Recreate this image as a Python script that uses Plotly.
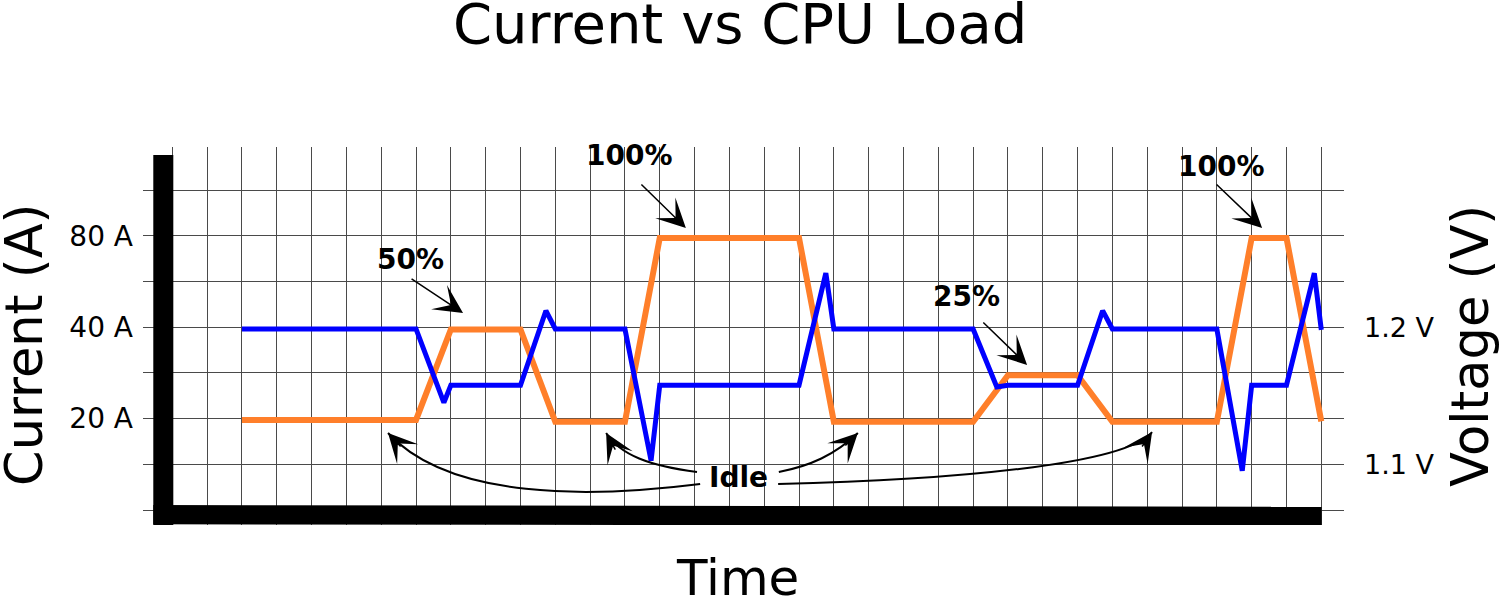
import plotly.graph_objects as go

# ---- data (grid units: x = time step, y = grid row) ----
time_current = [2, 7, 8, 10, 11, 13, 14, 18, 19, 23, 24, 26, 27, 30, 31, 32, 33]
current_level = [1.97, 1.97, 3.95, 3.95, 1.93, 1.93, 5.95, 5.95, 1.93, 1.93,
                 2.95, 2.95, 1.93, 1.93, 5.95, 5.95, 1.94]

time_voltage = [2, 7, 7.8, 8, 10, 10.73, 11, 13, 13.75, 14, 18, 18.77, 19, 23,
                23.68, 24, 26, 26.72, 27, 30, 30.73, 31, 32, 32.8, 33]
voltage_level = [3.96, 3.96, 2.35, 2.73, 2.73, 4.36, 3.96, 3.96, 1.08, 2.73,
                 2.73, 5.18, 3.96, 3.96, 2.69, 2.73, 2.73, 4.36, 3.96, 3.96,
                 0.86, 2.73, 2.73, 5.18, 3.94]

current_tickvals = [0, 1, 2, 3, 4, 5, 6, 7]
current_ticktext = ["", "", "20 A", "", "40 A", "", "80 A", ""]
voltage_tickvals = [1, 4]
voltage_ticktext = ["1.1 V", "1.2 V"]

FONT = "DejaVu Sans"
ORANGE = "#ff7f2a"
BLUE = "#0000ff"

fig = go.Figure()
fig.add_trace(go.Scatter(x=time_current, y=current_level, mode="lines",
                         line=dict(color=ORANGE, width=6), yaxis="y",
                         hoverinfo="skip", showlegend=False))
fig.add_trace(go.Scatter(x=time_voltage, y=voltage_level, mode="lines",
                         line=dict(color=BLUE, width=5), yaxis="y2",
                         hoverinfo="skip", showlegend=False))

YR = [-0.328, 7.9406]
fig.update_layout(
    width=1500, height=601,
    margin=dict(l=143, r=156, t=147, b=76, pad=0),
    paper_bgcolor="white", plot_bgcolor="white",
    font=dict(family=FONT, color="black"),
    xaxis=dict(range=[-0.8415, 33.652], tick0=0, dtick=1, showgrid=True,
               gridcolor="#4a4a4a", gridwidth=1, showticklabels=False,
               zeroline=False, showline=False, ticks=""),
    yaxis=dict(range=YR, tickmode="array", tickvals=current_tickvals,
               ticktext=current_ticktext, showgrid=True, gridcolor="#4a4a4a",
               gridwidth=1, zeroline=False, showline=False, ticks="",
               tickfont=dict(size=28, family=FONT), ticklabelstandoff=9),
    yaxis2=dict(range=YR, overlaying="y", side="right", tickmode="array",
                tickvals=voltage_tickvals, ticktext=voltage_ticktext,
                showgrid=False, zeroline=False, showline=False, ticks="",
                tickfont=dict(size=27, family=FONT), ticklabelstandoff=19),
)

# thick axis bars
fig.add_shape(type="rect", xref="x", yref="y", x0=-0.546, x1=0.029,
              y0=-0.328, y1=7.766, fillcolor="black", line=dict(width=0),
              layer="above")
fig.add_shape(type="path", xref="x", yref="y",
              path="M -0.546,0.109 L 33.01,0.072 L 33.01,-0.35 L -0.546,-0.313 Z",
              fillcolor="black", line=dict(width=0), layer="above")

# curved "Idle" arrows (bezier paths)
curves = [
    "M 15.16,0.569 C 11.99,0.263 7.976,0.219 6.195,1.684",
    "M 15.07,0.831 C 13.72,0.963 12.86,1.203 12.46,1.684",
    "M 17.42,0.831 C 18.31,0.963 19.03,1.203 19.69,1.684",
    "M 17.40,0.569 C 22.33,0.656 27.36,0.984 28.14,1.706",
]
for p in curves:
    fig.add_shape(type="path", path=p, xref="x", yref="y",
                  line=dict(color="black", width=2), layer="above")

heads = [  # tip (data), tail offset (px)
    (6.195, 1.684, 14, 15),
    (12.46, 1.684, 10, 18),
    (19.69, 1.684, -14, 14),
    (28.14, 1.706, -11, 16),
]
for hx, hy, ax, ay in heads:
    fig.add_annotation(x=hx, y=hy, ax=ax, ay=ay, text="", showarrow=True,
                       arrowhead=3, arrowsize=3.2, arrowwidth=1.5,
                       arrowcolor="black", standoff=0, startstandoff=0)

# straight label arrows
labels = [
    ("50%", 6.829, 5.469, 6.829, 5.075, 8.35, 4.309),
    ("100%", 13.12, 7.744, 13.43, 7.153, 14.75, 6.169),
    ("25%", 22.82, 4.681, 23.25, 4.134, 24.55, 3.172),
    ("100%", 30.12, 7.525, 29.95, 7.153, 31.30, 6.169),
]
for txt, tx, ty, sx, sy, ex, ey in labels:
    fig.add_annotation(x=tx, y=ty, text="<b>" + txt + "</b>", showarrow=False,
                       font=dict(size=28, family=FONT, color="black"))
    fig.add_annotation(x=ex, y=ey, ax=sx, ay=sy, axref="x", ayref="y",
                       text="", showarrow=True, arrowhead=3, arrowsize=3.2,
                       arrowwidth=1.5, arrowcolor="black", standoff=0,
                       startstandoff=0)

fig.add_annotation(x=16.25, y=0.722, text="<b>Idle</b>", showarrow=False,
                   font=dict(size=28, family=FONT, color="black"))

# titles (paper coordinates)
common = dict(xref="paper", yref="paper", showarrow=False,
              xanchor="center", yanchor="middle")
fig.add_annotation(x=0.4971, y=1.3254, text="Current vs CPU Load",
                   font=dict(size=56, family=FONT), **common)
fig.add_annotation(x=0.4954, y=-0.1402, text="Time",
                   font=dict(size=50, family=FONT), **common)
fig.add_annotation(x=-0.0983, y=0.4762, text="Current (A)", textangle=-90,
                   font=dict(size=51, family=FONT), **common)
fig.add_annotation(x=1.1049, y=0.4735, text="Voltage (V)", textangle=-90,
                   font=dict(size=51, family=FONT), **common)

fig.write_html("out.html")
